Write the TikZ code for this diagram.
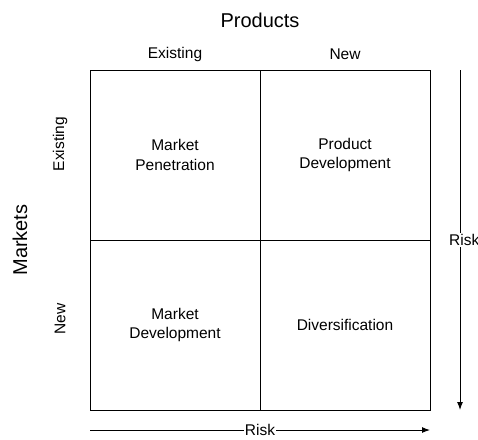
\documentclass[tikz,border=0pt]{standalone}
\usepackage{fontspec}
\setmainfont{Liberation Sans}
\usetikzlibrary{arrows.meta}

\begin{document}
\begin{tikzpicture}[x=1pt,y=1pt]
\tikzset{cell/.style={draw,line width=1pt,minimum size=170pt,inner sep=0pt,align=center,font=\fontsize{15.5}{19.5}\selectfont},
lbl/.style={inner sep=1pt,font=\fontsize{15.5}{18}\selectfont},
riskarrow/.style={line width=1pt,-{Latex[length=8pt,width=6pt]}}}
\useasboundingbox (0,0) rectangle (478,-439);
% the four cells
\node [cell] (mp) at (175,-155) {Market\\Penetration};
\node [cell] (pd) at (345,-155) {Product\\Development};
\node [cell] (md) at (175,-325) {Market\\Development};
\node [cell] (dv) at (345,-325) {Diversification};
% axis titles
\node [lbl,font=\fontsize{20}{22}\selectfont] (products) at (260,-20) {Products};
\node [lbl] (pex) at (175,-54) {Existing};
\node [lbl] (pnew) at (345,-54) {New};
\node [lbl,rotate=90,font=\fontsize{20}{22}\selectfont] (markets) at (20,-240) {Markets};
\node [lbl,rotate=90] (mex) at (60,-144) {Existing};
\node [lbl,rotate=90] (mnew) at (60,-319) {New};
% risk arrows
\coordinate (vtop) at (460,-70);
\coordinate (vbot) at (460,-410);
\draw [riskarrow] (vtop) -- (vbot);
\node [lbl,fill=white,anchor=west] (vrisk) at (448,-240) {Risk};
\coordinate (hleft) at (90,-430);
\coordinate (hright) at (430,-430);
\draw [riskarrow] (hleft) -- (hright);
\node [lbl,fill=white] (hrisk) at (260,-430) {Risk};
\end{tikzpicture}
\end{document}
